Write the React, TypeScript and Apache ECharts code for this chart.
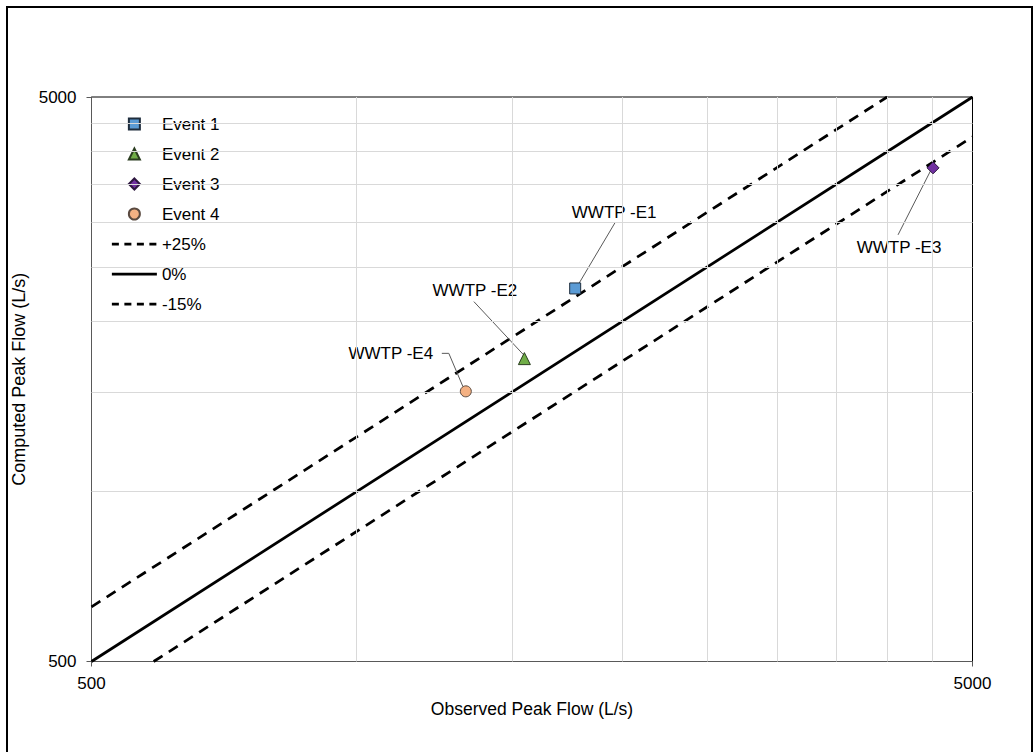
import React, { useEffect, useRef } from 'react';
import * as echarts from 'echarts';

// Peak flow events: observed vs computed (L/s)
const EVENT_NAMES = ['Event 1', 'Event 2', 'Event 3', 'Event 4'];
const OBSERVED = [1770, 1550, 4510, 1330];
const COMPUTED = [2290, 1720, 3745, 1505];
const STATION_LABELS = ['WWTP -E1', 'WWTP -E2', 'WWTP -E3', 'WWTP -E4'];

// Reference lines (end points on the plot boundary)
const BAND_NAMES = ['+25%', '0%', '-15%'];
const PLUS_25 = [[500, 625], [4000, 5000]];
const ZERO = [[500, 500], [5000, 5000]];
const MINUS_15 = [[588.2, 500], [5000, 4250]];

// Axis range, labelled ticks and minor grid values
const AXIS_MIN = 500;
const AXIS_MAX = 5000;
const AXIS_TICKS = [500, 5000];
const GRID_VALUES = [1000, 1500, 2000, 2500, 3000, 3500, 4000, 4500];

const FONT = "'Liberation Sans', Arial, sans-serif";

const MARKERS = [
  { symbol: 'rect', icon: 'path://M0,0L10,0L10,10L0,10Z', size: 11, color: '#5B9BD5', border: '#1F2D3D' },
  { symbol: 'triangle', icon: 'path://M5,0L10,10L0,10Z', size: 12, color: '#70AD47', border: '#2B3D20' },
  { symbol: 'diamond', icon: 'path://M5,0L10,5L5,10L0,5Z', size: 12, color: '#7030A0', border: '#2E1740' },
  { symbol: 'circle', icon: 'circle', size: 11, color: '#F4B183', border: '#5A4A40' },
];

const LINE_WIDTH = 2.75;
const PLOT_DASH = [10.5, 7.5];
const LEGEND_DASH = [7, 5.5];

// Callout placement relative to each marker (px)
const CALLOUTS = [
  { text: [39, -76], line: [[40, -66], [2, -2]] },
  { text: [-49.5, -68.5], line: [[-50.5, -57], [-1, -4]] },
  { text: [-34, 80], line: [[-35, 67], [-2, 2]] },
  { text: [-75, -38], line: [[-24, -38], [-17, -38], [-3, -5]] },
];

const tickFormatter = (v: number) => (AXIS_TICKS.includes(Math.round(v)) ? String(Math.round(v)) : '');

export default function App() {
  const ref = useRef<HTMLDivElement>(null);

  useEffect(() => {
    document.body.style.margin = '0';
    if (!ref.current) return;
    const chart = echarts.init(ref.current, undefined, { renderer: 'svg' });

    const axisCommon = {
      type: 'log' as const,
      logBase: 10,
      min: AXIS_MIN,
      max: AXIS_MAX,
      nameLocation: 'middle' as const,
      axisLine: { show: true, onZero: false, lineStyle: { color: '#595959', width: 1 } },
      axisTick: { show: true, length: 5, customValues: AXIS_TICKS, lineStyle: { color: '#595959' } },
      splitLine: { show: false },
      minorTick: { show: false },
      minorSplitLine: { show: false },
    };

    const scatterSeries = EVENT_NAMES.map((name, i) => ({
      name,
      type: 'scatter',
      data: [[OBSERVED[i], COMPUTED[i]]],
      symbol: MARKERS[i].symbol,
      symbolSize: MARKERS[i].size,
      itemStyle: { color: MARKERS[i].color, borderColor: MARKERS[i].border, borderWidth: 1, opacity: 1 },
      z: 6,
      silent: true,
    }));

    const bandData = [PLUS_25, ZERO, MINUS_15];
    const bandDashed = [true, false, true];
    const bandSeries = BAND_NAMES.map((name, i) => ({
      name,
      type: 'line',
      data: bandData[i],
      symbol: 'none',
      showSymbol: false,
      silent: true,
      z: 3,
      itemStyle: { color: '#000' },
      lineStyle: { color: '#000', width: LINE_WIDTH, type: bandDashed[i] ? PLOT_DASH : 'solid' },
    }));

    const legendData = [
      ...EVENT_NAMES.map((name, i) => ({ name, icon: MARKERS[i].icon })),
      ...BAND_NAMES.map((name, i) => ({
        name,
        itemStyle: { opacity: 0 },
        lineStyle: { color: '#000', width: LINE_WIDTH, type: bandDashed[i] ? LEGEND_DASH : 'solid' },
      })),
    ];

    chart.setOption({
      animation: false,
      textStyle: { fontFamily: FONT },
      graphic: [
        {
          type: 'rect',
          silent: true,
          z: -10,
          shape: { x: 7, y: 7, width: 1025, height: 780 },
          style: { fill: 'none', stroke: '#000', lineWidth: 2 },
        },
      ],
      grid: {
        left: 91.5,
        right: 61.5,
        top: 97,
        bottom: 90.5,
        show: true,
        borderColor: '#000',
        borderWidth: 1,
        containLabel: false,
        outerBoundsMode: 'none',
      },
      legend: {
        orient: 'vertical',
        left: 110.5,
        top: 115.5,
        padding: 0,
        itemWidth: 45,
        itemHeight: 11,
        itemGap: 13,
        symbolKeepAspect: true,
        data: legendData,
        textStyle: { fontSize: 17, lineHeight: 17, color: '#000', fontFamily: FONT },
        selectedMode: false,
      },
      xAxis: {
        ...axisCommon,
        name: 'Observed Peak Flow (L/s)',
        nameGap: 38,
        nameTextStyle: { fontSize: 17.5, color: '#000', fontFamily: FONT },
        axisLabel: {
          customValues: AXIS_TICKS,
          fontSize: 17,
          color: '#000',
          margin: 13,
          fontFamily: FONT,
          formatter: tickFormatter,
        },
      },
      yAxis: {
        ...axisCommon,
        name: 'Computed Peak Flow (L/s)',
        nameGap: 59,
        nameTextStyle: { fontSize: 18, color: '#000', fontFamily: FONT },
        axisLabel: {
          customValues: AXIS_TICKS,
          fontSize: 17,
          color: '#000',
          margin: 15,
          fontFamily: FONT,
          formatter: tickFormatter,
        },
      },
      series: [
        {
          name: 'gridlines',
          type: 'line',
          data: [],
          silent: true,
          z: 1,
          markLine: {
            silent: true,
            animation: false,
            symbol: ['none', 'none'],
            label: { show: false },
            emphasis: { disabled: true },
            lineStyle: { color: '#d9d9d9', width: 1, type: 'solid' },
            data: [
              ...GRID_VALUES.map((v) => ({ xAxis: v })),
              ...GRID_VALUES.map((v) => ({ yAxis: v })),
            ],
          },
        },
        ...bandSeries,
        {
          name: 'callouts',
          type: 'custom',
          silent: true,
          clip: false,
          z: 4,
          data: OBSERVED.map((x, i) => [x, COMPUTED[i]]),
          renderItem: (params: any, api: any) => {
            const i = params.dataIndex;
            const [px, py] = api.coord([api.value(0), api.value(1)]);
            const c = CALLOUTS[i];
            return {
              type: 'group',
              children: [
                {
                  type: 'polyline',
                  shape: { points: c.line.map(([dx, dy]) => [px + dx, py + dy]) },
                  style: { stroke: '#595959', lineWidth: 1, fill: null },
                },
                {
                  type: 'text',
                  x: px + c.text[0],
                  y: py + c.text[1],
                  style: {
                    text: STATION_LABELS[i],
                    align: 'center',
                    verticalAlign: 'middle',
                    fontSize: 17,
                    fontFamily: FONT,
                    fill: '#000',
                  },
                },
              ],
            };
          },
        },
        ...scatterSeries,
      ],
    });

    return () => chart.dispose();
  }, []);

  return <div ref={ref} style={{ width: 1034, height: 752 }} />;
}
